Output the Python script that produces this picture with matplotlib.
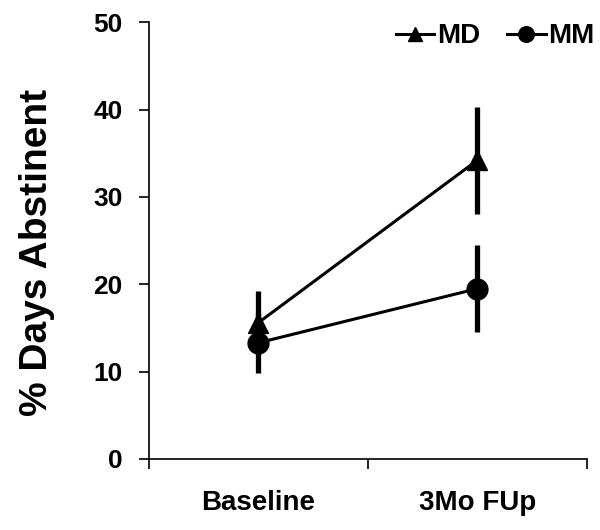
import matplotlib
matplotlib.use('Agg')
import matplotlib.pyplot as plt

timepoints = ['Baseline', '3Mo FUp']
md_mean = [15.6, 34.2]
md_err = [3.6, 6.1]
mm_mean = [13.3, 19.5]
mm_err = [3.4, 5.0]
yticks = [0, 10, 20, 30, 40, 50]

plt.rcParams['font.family'] = ['Liberation Sans', 'DejaVu Sans']
plt.rcParams['font.weight'] = 'bold'

fig = plt.figure(figsize=(6, 5.3), dpi=100)
ax = fig.add_axes([0.248, 0.134, 0.73, 0.824])

xpos = [i + 0.5 for i in range(len(timepoints))]

ax.errorbar(xpos, md_mean, yerr=md_err, color='black', lw=2.2, elinewidth=3.8,
            capsize=0, marker='^', ms=14, label='MD')
ax.errorbar(xpos, mm_mean, yerr=mm_err, color='black', lw=2.2, elinewidth=3.8,
            capsize=0, marker='o', ms=15, label='MM')

ax.set_xlim(0, len(timepoints))
ax.set_ylim(0, 50)
ax.set_yticks(yticks)
ax.set_xticks(range(len(timepoints) + 1))
ax.set_xticklabels([])
ax.set_xticks(xpos, minor=True)
ax.set_xticklabels(timepoints, minor=True, fontsize=20, fontweight='bold')
ax.tick_params(axis='x', which='minor', length=0, pad=22)
ax.tick_params(axis='x', which='major', length=7, width=1.2, direction='out')
ax.tick_params(axis='y', length=7, width=1.2, direction='out', labelsize=19, pad=12)
for lab in ax.get_yticklabels():
    lab.set_fontweight('bold')

for s in ['top', 'right']:
    ax.spines[s].set_visible(False)
for s in ['left', 'bottom']:
    ax.spines[s].set_linewidth(1.2)

ax.set_ylabel('% Days Abstinent', fontsize=28, fontweight='bold')
ax.yaxis.set_label_coords(-0.214, 0.474)

handles, labels = ax.get_legend_handles_labels()
leg = ax.legend([h[0] for h in handles], labels, loc='upper right', ncol=2,
                frameon=False, handlelength=1.4, handletextpad=0.1,
                columnspacing=0.95, bbox_to_anchor=(1.075, 1.055), markerscale=0.75,
                prop={'weight': 'bold', 'size': 20})

fig.savefig('out.png', dpi=100)
